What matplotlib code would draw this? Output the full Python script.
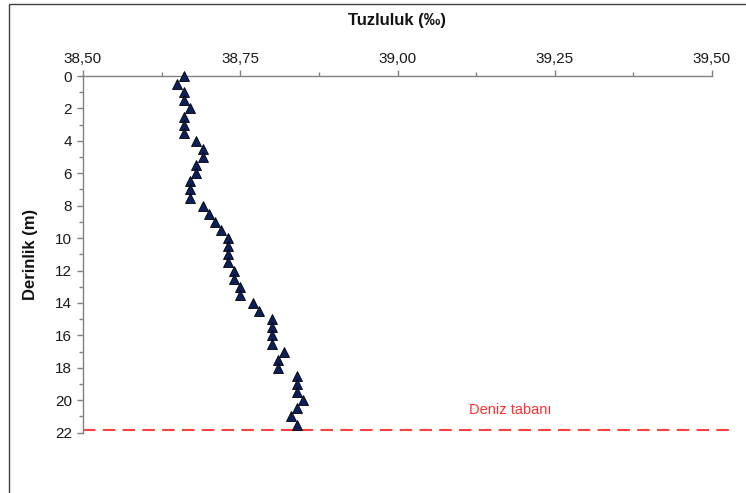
import matplotlib
matplotlib.use("Agg")
import matplotlib.pyplot as plt
from matplotlib.patches import Rectangle
from matplotlib.ticker import MultipleLocator, FuncFormatter

depth = [0, 0.5, 1, 1.5, 2, 2.5, 3, 3.5, 4, 4.5, 5, 5.5, 6, 6.5, 7, 7.5,
         8, 8.5, 9, 9.5, 10, 10.5, 11, 11.5, 12, 12.5, 13, 13.5, 14, 14.5,
         15, 15.5, 16, 16.5, 17, 17.5, 18, 18.5, 19, 19.5, 20, 20.5, 21, 21.5]
salinity = [38.66, 38.65, 38.66, 38.66, 38.67, 38.66, 38.66, 38.66, 38.68, 38.69,
            38.69, 38.68, 38.68, 38.67, 38.67, 38.67, 38.69, 38.70, 38.71, 38.72,
            38.73, 38.73, 38.73, 38.73, 38.74, 38.74, 38.75, 38.75, 38.77, 38.78,
            38.80, 38.80, 38.80, 38.80, 38.82, 38.81, 38.81, 38.84, 38.84, 38.84,
            38.85, 38.84, 38.83, 38.84]
seabed_depth = 21.85
seabed_label = "Deniz tabanı"
x_title = "Tuzluluk (‰)"
y_title = "Derinlik (m)"

plt.rcParams['font.family'] = ['Liberation Sans', 'DejaVu Sans']

fig = plt.figure(figsize=(7.46, 4.93), dpi=100)
ax = fig.add_axes([83/746, 1-432.7/493, (712-83)/746, (432.7-76)/493])

# outer frame
fig.patches.append(Rectangle((9/746, -0.1), 1.2, 1-4/493+0.1, transform=fig.transFigure,
                             fill=False, edgecolor='#404040', linewidth=1.0))

ax.plot(salinity, depth, linestyle='none', marker='^', markersize=7.5,
        markerfacecolor='#0a1f5c', markeredgecolor='#000000', markeredgewidth=0.6,
        clip_on=False, zorder=3)

ax.set_xlim(38.5, 39.5)
ax.set_ylim(22, 0)

ax.xaxis.set_major_locator(MultipleLocator(0.25))
ax.xaxis.set_minor_locator(MultipleLocator(0.125))
ax.yaxis.set_major_locator(MultipleLocator(2))
ax.yaxis.set_minor_locator(MultipleLocator(1))
ax.xaxis.set_major_formatter(FuncFormatter(lambda v, p: f"{v:.2f}".replace('.', ',')))

ax.xaxis.tick_top()
ax.xaxis.set_label_position('top')
for s in ['right', 'bottom']:
    ax.spines[s].set_visible(False)
for s in ['left', 'top']:
    ax.spines[s].set_color('#808080')
    ax.spines[s].set_linewidth(1.0)

ax.tick_params(axis='both', which='major', direction='out', length=4, width=1,
               color='#808080', labelsize=11, labelcolor='#1a1a1a')
ax.tick_params(axis='both', which='minor', direction='out', length=3, width=1,
               color='#808080')
ax.tick_params(axis='x', which='major', pad=3)
ax.tick_params(axis='y', which='major', pad=4)

fig.text(397.5/746, 1-20/493, x_title, ha='center', va='center',
         fontsize=12, fontweight='bold', color='#111111')
fig.text(30/746, 1-254/493, y_title, ha='center', va='center', rotation=90,
         fontsize=12, fontweight='bold', color='#111111')

ax.plot([0, 1.03], [seabed_depth, seabed_depth], transform=ax.get_yaxis_transform(),
        color='#ff4040', linestyle=(0, (6, 3.5)), linewidth=1.5, clip_on=False, zorder=2)
ax.text(39.18, 20.6, seabed_label, color='#ff3030', fontsize=10.5,
        ha='center', va='center')

fig.savefig('out.png', dpi=100)
